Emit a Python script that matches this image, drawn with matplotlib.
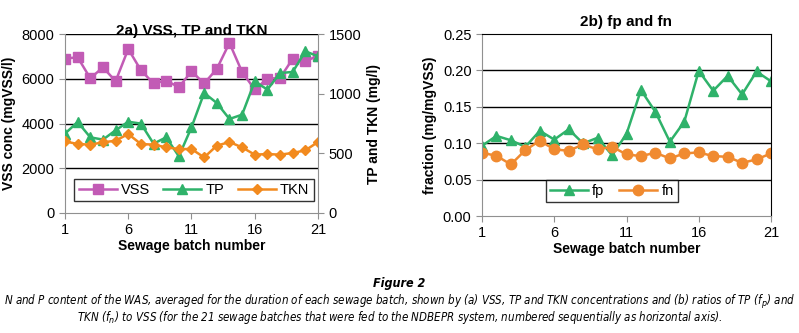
import matplotlib
matplotlib.use("Agg")
import matplotlib.pyplot as plt
from matplotlib.lines import Line2D

batch = list(range(1, 22))
vss = [6900, 6960, 6020, 6510, 5890, 7330, 6380, 5790, 5920, 5620, 6330,
       5790, 6440, 7600, 6300, 5520, 6000, 6040, 6890, 6780, 7030]
tp = [665, 763, 634, 615, 693, 765, 749, 581, 634, 475, 718,
      1006, 922, 788, 824, 1103, 1034, 1173, 1182, 1355, 1313]
tkn = [600, 578, 573, 592, 606, 662, 578, 573, 550, 536, 536,
       466, 564, 595, 550, 489, 494, 489, 503, 525, 595]
fp = [0.0965, 0.110, 0.104, 0.095, 0.117, 0.105, 0.119, 0.0997, 0.1075, 0.0836, 0.1126,
      0.173, 0.143, 0.102, 0.1296, 0.1994, 0.172, 0.1925, 0.167, 0.1985, 0.185]
fn = [0.0869, 0.0827, 0.0708, 0.0905, 0.1034, 0.0915, 0.0896, 0.0983, 0.0915, 0.0951, 0.0846,
      0.0823, 0.0869, 0.079, 0.086, 0.0873, 0.0823, 0.0813, 0.073, 0.0777, 0.086]
xticks = [1, 6, 11, 16, 21]

C_VSS = "#c25bb5"
C_TP = "#2fb26a"
C_TKN = "#f28a1e"
C_FN = "#f08a30"
GRAY = "#909090"

plt.rcParams['font.family'] = ['Liberation Sans', 'DejaVu Sans']

W, H = 799, 333
fig = plt.figure(figsize=(W / 100, H / 100), dpi=100)

def rect(x0, y0, x1, y1):
    return [x0 / W, 1 - y1 / H, (x1 - x0) / W, (y1 - y0) / H]

MS = 7.5
LW = 1.8

# ---------- left chart ----------
ax = fig.add_axes(rect(65, 34, 318, 213))
ax.plot(batch, vss, color=C_VSS, marker='s', ms=MS, lw=LW, label='VSS')
ax.set_ylim(0, 8000)
ax.set_xlim(1, 21)
ax.set_yticks([0, 2000, 4000, 6000, 8000])
ax.set_xticks(xticks)
for v in [2000, 4000, 6000, 8000]:
    ax.axhline(v, color='black', lw=1, zorder=0)
ax.tick_params(labelsize=10.5, length=4, color=GRAY, direction='out')
for s in ['top', 'right']:
    ax.spines[s].set_visible(False)
for s in ['left', 'bottom']:
    ax.spines[s].set_color(GRAY)
ax.set_ylabel('VSS conc (mgVSS/l)', fontsize=10, fontweight='bold', labelpad=4)
ax.set_xlabel('Sewage batch number', fontsize=10, fontweight='bold', labelpad=1)
ax.text(0.5, 0.992, '2a) VSS, TP and TKN', transform=ax.transAxes, ha='center',
        va='baseline', fontsize=11, fontweight='bold')

ax2 = ax.twinx()
ax2.plot(batch, tp, color=C_TP, marker='^', ms=MS, lw=LW, label='TP')
ax2.plot(batch, tkn, color=C_TKN, marker='D', ms=5, lw=LW, label='TKN')
ax2.set_ylim(0, 1500)
ax2.set_yticks([0, 500, 1000, 1500])
ax2.tick_params(labelsize=10.5, length=4, color=GRAY)
for s in ['top', 'left', 'bottom']:
    ax2.spines[s].set_visible(False)
ax2.spines['right'].set_color(GRAY)
ax2.set_ylabel('TP and TKN (mg/l)', fontsize=10, fontweight='bold', labelpad=4)
ax2.set_xlim(1, 21)

handles = [Line2D([], [], color=C_VSS, marker='s', ms=MS, lw=LW),
           Line2D([], [], color=C_TP, marker='^', ms=MS, lw=LW),
           Line2D([], [], color=C_TKN, marker='D', ms=5, lw=LW)]
leg = ax2.legend(handles, ['VSS', 'TP', 'TKN'], ncol=3, loc='lower center',
                 bbox_to_anchor=(0.51, 0.065), fontsize=10.5, frameon=True,
                 fancybox=False, edgecolor='black', handlelength=2.6,
                 columnspacing=0.9, handletextpad=0.3, borderpad=0.3,
                 borderaxespad=0)
leg.get_frame().set_linewidth(1)

# ---------- right chart ----------
bx = fig.add_axes(rect(482, 34, 771, 216))
bx.plot(batch, fp, color=C_TP, marker='^', ms=MS, lw=LW, label='fp')
bx.plot(batch, fn, color=C_FN, marker='o', ms=MS, lw=LW, label='fn')
bx.set_ylim(0, 0.25)
bx.set_xlim(1, 21)
bx.set_yticks([0, 0.05, 0.10, 0.15, 0.20, 0.25])
bx.set_yticklabels(['0.00', '0.05', '0.10', '0.15', '0.20', '0.25'])
bx.set_xticks(xticks)
for v in [0.05, 0.10, 0.15, 0.20]:
    bx.axhline(v, color='black', lw=1, zorder=0)
bx.tick_params(labelsize=10.5, length=4, color=GRAY)
for s in ['left', 'bottom']:
    bx.spines[s].set_color(GRAY)
for s in ['top', 'right']:
    bx.spines[s].set_color('black')
bx.set_ylabel('fraction (mg/mgVSS)', fontsize=10, fontweight='bold', labelpad=4)
bx.set_xlabel('Sewage batch number', fontsize=10, fontweight='bold', labelpad=1)
bx.set_title('2b) fp and fn', fontsize=11, fontweight='bold', pad=6)
leg2 = bx.legend(ncol=2, loc='lower left', bbox_to_anchor=(0.22, 0.075),
                 fontsize=10.5, frameon=True, fancybox=False, edgecolor='black',
                 handlelength=2.6, columnspacing=1.0, handletextpad=0.3,
                 borderpad=0.3, borderaxespad=0)
leg2.get_frame().set_linewidth(1)

# ---------- caption ----------
cap_kw = dict(ha='center', va='center', style='italic',
              family=['DejaVu Sans', 'Liberation Sans'], stretch='condensed')
fig.text(0.5, 1 - 283 / H, 'Figure 2', fontsize=9, fontweight='bold', **cap_kw)
fig.text(0.5, 1 - 302 / H,
         'N and P content of the WAS, averaged for the duration of each sewage batch, '
         'shown by (a) VSS, TP and TKN concentrations and (b) ratios of TP (f$_p$) and',
         fontsize=8.3, **cap_kw)
fig.text(0.5, 1 - 318 / H,
         'TKN (f$_n$) to VSS (for the 21 sewage batches that were fed to the NDBEPR system, '
         'numbered sequentially as horizontal axis).',
         fontsize=8.3, **cap_kw)

fig.savefig('out.png', dpi=100)
